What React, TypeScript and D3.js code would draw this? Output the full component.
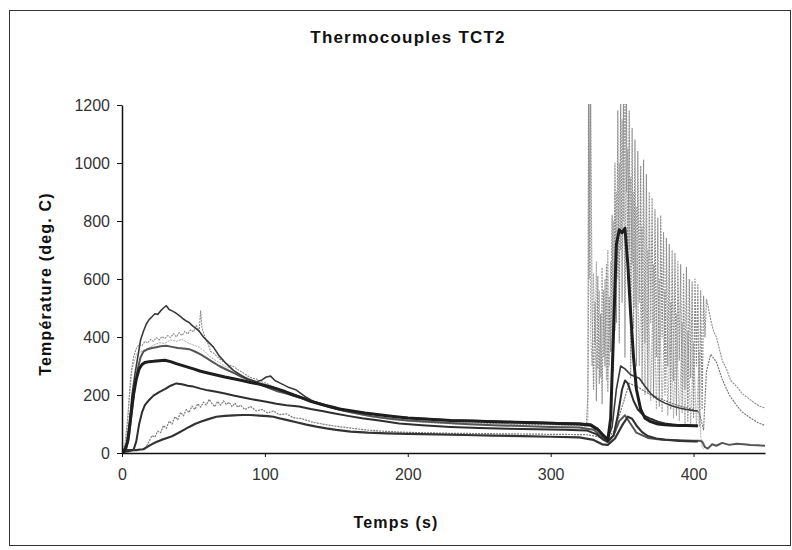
import { useEffect, useRef } from "react";
import * as d3 from "d3";

type Pt = [number, number]; // [time (s), temperature (deg C)]

const xTicks = [0, 100, 200, 300, 400];
const yTicks = [0, 200, 400, 600, 800, 1000, 1200];

// highest early peak
const tcA: Pt[] = [
  [0, 5], [3, 20], [5, 90], [7, 200], [9, 270], [11, 330], [13, 390], [15, 420], [17, 445], [19, 460],
  [21, 470], [23, 480], [25, 478], [27, 490], [29, 500], [31, 508], [33, 495], [35, 490], [37, 485], [39, 478],
  [41, 470], [43, 462], [45, 455], [47, 450], [49, 440], [51, 432], [54, 420], [57, 400], [60, 385], [64, 365],
  [68, 335], [73, 308], [78, 285], [83, 268], [88, 255], [94, 246], [98, 252], [101, 262], [104, 265], [107, 250],
  [111, 240], [116, 228], [122, 217], [128, 195], [134, 178], [141, 168], [148, 160], [155, 150], [163, 143], [171, 137],
  [180, 131], [190, 126], [200, 122], [215, 118], [230, 114], [245, 112], [260, 110], [275, 108], [290, 106], [305, 104],
  [320, 102], [328, 100], [333, 85], [337, 60], [340, 50], [343, 90], [346, 220], [349, 300], [352, 290], [356, 270],
  [362, 258], [366, 230], [370, 205], [375, 185], [380, 172], [385, 162], [390, 155], [395, 150], [400, 146], [403, 145],
];

// noisy trace, wild oscillation during the second event
const tcB: Pt[] = [
  [0, 0], [2, 30], [4, 120], [6, 260], [8, 330], [10, 360], [12, 375], [14, 370], [16, 385], [18, 380],
  [20, 392], [22, 385], [24, 398], [26, 390], [28, 402], [30, 395], [32, 405], [34, 398], [36, 412], [38, 400],
  [40, 415], [42, 405], [44, 420], [46, 410], [48, 425], [50, 418], [52, 440], [54, 420], [55, 490], [56, 430],
  [58, 400], [60, 380], [62, 350], [64, 345], [66, 335], [68, 325], [70, 318], [74, 305], [78, 298], [82, 285],
  [86, 272], [90, 260], [94, 255], [98, 245], [102, 238], [108, 225], [114, 215], [120, 205], [127, 192], [134, 180],
  [142, 166], [150, 152], [160, 140], [170, 130], [180, 122], [195, 115], [210, 110], [230, 105], [250, 103], [270, 100],
  [290, 98], [310, 96], [325, 95], [326, 200], [326.5, 1250], [327, 600], [328, 1250], [329, 480], [330, 220], [331, 520],
  [332, 180], [333, 610], [334, 240], [335, 480], [336, 170], [337, 560], [338, 300], [339, 650], [340, 210], [341, 540],
  [342, 350], [343, 820], [344, 280], [345, 1000], [346, 450], [347, 1180], [348, 380], [349, 1250], [350, 520], [351, 1250],
  [352, 330], [353, 1250], [354, 600], [355, 1180], [356, 260], [357, 1120], [358, 430], [359, 1080], [360, 300], [361, 1040],
  [362, 520], [363, 990], [364, 240], [365, 1010], [366, 380], [367, 960], [368, 210], [369, 900], [370, 450], [371, 880],
  [372, 190], [373, 840], [374, 330], [375, 810], [376, 160], [377, 820], [378, 400], [379, 760], [380, 200], [381, 740],
  [382, 300], [383, 720], [384, 150], [385, 700], [386, 250], [387, 690], [388, 130], [389, 660], [390, 320], [391, 650],
  [392, 140], [393, 620], [394, 220], [395, 640], [396, 110], [397, 600], [398, 260], [399, 590], [400, 120], [401, 600],
  [402, 300], [403, 580], [404, 90], [405, 560], [406, 150], [407, 540], [408, 400], [409, 530], [410, 510], [412, 460],
  [414, 420], [416, 400], [418, 360], [420, 320], [423, 290], [426, 250], [430, 230], [434, 205], [438, 190], [442, 175],
  [446, 162], [450, 155],
];

// second noisy trace, only lively during the second event
const tcH: Pt[] = [
  [0, 0], [3, 40], [5, 180], [7, 290], [10, 340], [14, 352], [18, 360], [22, 372], [26, 380], [30, 378],
  [34, 390], [38, 385], [42, 392], [46, 380], [50, 372], [54, 365], [58, 350], [62, 330], [66, 318], [72, 300],
  [78, 285], [85, 266], [92, 250], [100, 236], [110, 220], [120, 202], [132, 180], [145, 158], [160, 138], [175, 124],
  [190, 114], [210, 106], [240, 98], [270, 93], [300, 90], [325, 90], [326, 95], [327, 870], [327.5, 1250], [328, 400],
  [329, 300], [330, 620], [331, 380], [332, 660], [333, 290], [334, 560], [335, 260], [336, 640], [337, 330], [338, 600],
  [339, 250], [340, 700], [341, 300], [342, 660], [343, 350], [344, 800], [345, 420], [346, 900], [347, 600], [348, 1000],
  [349, 700], [350, 1150], [351, 800], [352, 1250], [353, 900], [354, 1050], [355, 700], [356, 950], [357, 650], [358, 900],
  [359, 500], [360, 850], [362, 300], [364, 780], [366, 200], [368, 700], [370, 180], [372, 650], [374, 150], [376, 600],
  [378, 140], [380, 560], [382, 130], [384, 520], [386, 120], [388, 480], [390, 110], [392, 450], [394, 100], [396, 420],
  [398, 95], [400, 380], [402, 90], [404, 350], [405, 60], [406, 20], [407, 15],
];

const tcC: Pt[] = [
  [0, 0], [3, 15], [5, 60], [7, 150], [9, 230], [11, 290], [13, 330], [15, 350], [18, 358], [21, 362],
  [24, 365], [27, 368], [31, 370], [35, 366], [39, 362], [43, 360], [47, 358], [51, 350], [55, 340], [59, 328],
  [63, 315], [68, 300], [73, 288], [78, 276], [84, 262], [90, 250], [96, 238], [102, 226], [108, 214], [115, 205],
  [122, 195], [130, 183], [138, 170], [146, 158], [155, 146], [165, 136], [175, 127], [188, 118], [200, 112], [220, 106],
  [240, 100], [260, 96], [280, 93], [300, 90], [320, 88], [330, 80], [336, 55], [340, 42], [344, 60], [348, 110],
  [352, 130], [356, 100], [360, 70], [368, 52], [378, 46], [390, 44], [400, 42], [404, 42], [406, 40], [408, 20],
  [410, 15], [413, 30], [416, 25], [420, 35], [425, 28], [430, 32], [435, 30], [440, 28], [445, 27], [450, 25],
];

// thick dark trace with the tall second peak
const tcD: Pt[] = [
  [0, 0], [2, 10], [4, 40], [6, 120], [8, 200], [10, 255], [12, 290], [14, 305], [16, 312], [19, 315],
  [22, 316], [26, 318], [30, 320], [34, 315], [38, 308], [42, 302], [46, 296], [50, 290], [55, 282], [60, 276],
  [66, 269], [72, 262], [78, 256], [84, 250], [90, 243], [96, 238], [102, 230], [108, 222], [114, 212], [120, 200],
  [126, 190], [132, 178], [138, 170], [145, 160], [152, 152], [160, 146], [170, 138], [180, 132], [190, 126], [200, 121],
  [215, 116], [230, 112], [245, 110], [260, 108], [275, 106], [290, 104], [305, 102], [320, 100], [328, 96], [333, 80],
  [337, 60], [340, 45], [342, 120], [344, 420], [346, 720], [348, 770], [350, 760], [352, 775], [354, 650], [356, 480],
  [358, 330], [360, 220], [363, 150], [366, 120], [370, 108], [375, 100], [380, 97], [385, 96], [390, 95], [395, 95],
  [400, 94], [403, 94],
];

const tcE: Pt[] = [
  [0, 3], [4, 5], [8, 10], [10, 40], [12, 100], [14, 140], [16, 165], [19, 183], [22, 198], [26, 210],
  [30, 220], [34, 232], [38, 240], [42, 237], [46, 232], [50, 229], [55, 222], [60, 216], [66, 211], [72, 205],
  [78, 198], [84, 192], [90, 186], [96, 181], [101, 177], [108, 170], [115, 165], [124, 160], [132, 152], [140, 145],
  [148, 137], [158, 128], [168, 120], [180, 112], [194, 102], [210, 96], [230, 90], [250, 86], [270, 84], [290, 82],
  [310, 80], [325, 78], [332, 65], [337, 45], [340, 38], [344, 60], [347, 130], [350, 220], [352, 250], [354, 240],
  [356, 210], [358, 180], [361, 150], [365, 130], [370, 118], [375, 108], [380, 102], [385, 98], [390, 96], [395, 95],
  [400, 94], [403, 92],
];

// lowest trace
const tcF: Pt[] = [
  [0, 10], [5, 10], [10, 10], [13, 12], [15, 13], [18, 22], [20, 28], [24, 38], [28, 46], [31, 51],
  [35, 58], [39, 68], [43, 79], [47, 90], [51, 100], [55, 108], [60, 116], [66, 125], [72, 128], [78, 130],
  [84, 131], [90, 131], [96, 129], [102, 127], [106, 125], [110, 120], [115, 114], [122, 106], [129, 98], [136, 91],
  [143, 85], [150, 80], [160, 74], [172, 70], [185, 68], [200, 66], [220, 64], [240, 62], [260, 60], [280, 58],
  [300, 56], [320, 54], [330, 45], [336, 30], [340, 28], [345, 50], [350, 95], [354, 125], [357, 118], [360, 95],
  [364, 72], [368, 58], [374, 50], [380, 46], [390, 42], [400, 40], [403, 40],
];

// stepped noisy trace
const tcG: Pt[] = [
  [0, 0], [2, 5], [4, 10], [8, 12], [12, 12], [16, 14], [19, 40], [21, 60], [23, 55], [25, 75],
  [27, 70], [29, 95], [31, 85], [33, 110], [35, 100], [37, 125], [39, 115], [41, 140], [43, 128], [45, 150],
  [47, 140], [49, 162], [51, 150], [53, 170], [55, 158], [57, 175], [59, 165], [61, 185], [63, 170], [65, 160],
  [67, 178], [69, 165], [71, 180], [73, 168], [75, 175], [77, 160], [79, 172], [81, 158], [83, 165], [86, 150],
  [90, 160], [94, 145], [98, 150], [102, 138], [106, 145], [110, 132], [115, 135], [120, 122], [126, 118], [132, 108],
  [140, 100], [150, 92], [160, 86], [170, 80], [180, 76], [195, 72], [210, 70], [230, 68], [250, 67], [270, 66],
  [290, 65], [310, 64], [325, 63], [335, 55], [340, 50], [345, 80], [350, 160], [355, 240], [360, 230], [365, 215],
  [370, 200], [378, 185], [385, 170], [392, 160], [400, 150], [404, 140], [407, 80], [409, 280], [412, 340], [416, 314],
  [420, 255], [425, 200], [430, 165], [434, 141], [440, 120], [445, 105], [450, 95],
];

const series = [tcH, tcB, tcG, tcC, tcA, tcE, tcF, tcD];
const seriesColor = ["#a8a8a8", "#8a8a8a", "#7a7a7a", "#555", "#3a3a3a", "#2e2e2e", "#333", "#1e1e1e"];
const seriesWidth = [1, 1.1, 1.2, 2, 1.6, 2, 2.2, 3];
const seriesDash = ["2,1", "2,1", "2,1", null, null, null, null, null];

const W = 792;
const H = 550;
const M = { left: 122, right: 765, top: 105, bottom: 453 };
const FONT = "Liberation Sans, Arial, sans-serif";

export default function App() {
  const ref = useRef<SVGSVGElement>(null);

  useEffect(() => {
    if (!ref.current) return;
    const svg = d3.select(ref.current);
    svg.selectAll("*").remove();

    svg.append("rect").attr("width", W).attr("height", H).attr("fill", "#fff");

    // outer chart frame
    svg
      .append("rect")
      .attr("x", 9.5)
      .attr("y", 10.5)
      .attr("width", 781)
      .attr("height", 535)
      .attr("fill", "none")
      .attr("stroke", "#333")
      .attr("stroke-width", 1);

    const x = d3.scaleLinear().domain([0, 450]).range([M.left, M.right]);
    const y = d3.scaleLinear().domain([0, 1200]).range([M.bottom, M.top]);

    svg
      .append("defs")
      .append("clipPath")
      .attr("id", "plot")
      .append("rect")
      .attr("x", M.left)
      .attr("y", M.top - 1)
      .attr("width", M.right - M.left)
      .attr("height", M.bottom - M.top + 1);

    const line = d3
      .line<Pt>()
      .x((d) => x(d[0]))
      .y((d) => y(d[1]));

    const g = svg.append("g").attr("clip-path", "url(#plot)");
    series.forEach((s, i) => {
      g.append("path")
        .attr("d", line(s) as string)
        .attr("fill", "none")
        .attr("stroke", seriesColor[i])
        .attr("stroke-width", seriesWidth[i])
        .attr("stroke-dasharray", seriesDash[i])
        .attr("stroke-linejoin", "round");
    });

    // axes
    const yAxis = svg
      .append("g")
      .attr("transform", `translate(${M.left},0)`)
      .call(
        d3.axisLeft(y).tickValues(yTicks).tickFormat(d3.format("d")).tickSize(5).tickSizeOuter(0).tickPadding(7)
      );
    const xAxis = svg
      .append("g")
      .attr("transform", `translate(0,${M.bottom})`)
      .call(
        d3.axisBottom(x).tickValues(xTicks).tickFormat(d3.format("d")).tickSize(4).tickSizeOuter(0).tickPadding(12)
      );

    [yAxis, xAxis].forEach((a) => {
      a.select(".domain").attr("stroke", "#111").attr("stroke-width", 1.5);
      a.selectAll(".tick line").attr("stroke", "#111");
      a.selectAll(".tick text")
        .attr("fill", "#333")
        .style("font-family", FONT)
        .style("font-size", "16px");
    });

    svg
      .append("text")
      .attr("x", 408)
      .attr("y", 43)
      .attr("text-anchor", "middle")
      .style("font-family", FONT)
      .style("font-weight", "bold")
      .style("font-size", "17px")
      .style("letter-spacing", "1.2px")
      .attr("fill", "#111")
      .text("Thermocouples TCT2");

    svg
      .append("text")
      .attr("x", 396)
      .attr("y", 528)
      .attr("text-anchor", "middle")
      .style("font-family", FONT)
      .style("font-weight", "bold")
      .style("font-size", "16px")
      .style("letter-spacing", "1.2px")
      .attr("fill", "#111")
      .text("Temps (s)");

    svg
      .append("text")
      .attr("transform", "translate(51,284) rotate(-90)")
      .attr("text-anchor", "middle")
      .style("font-family", FONT)
      .style("font-weight", "bold")
      .style("font-size", "16px")
      .style("letter-spacing", "1.2px")
      .attr("fill", "#111")
      .text("Température (deg. C)");
  }, []);

  return (
    <svg
      ref={ref}
      width={W}
      height={H}
      style={{ position: "absolute", left: 0, top: 0, display: "block" }}
    />
  );
}
